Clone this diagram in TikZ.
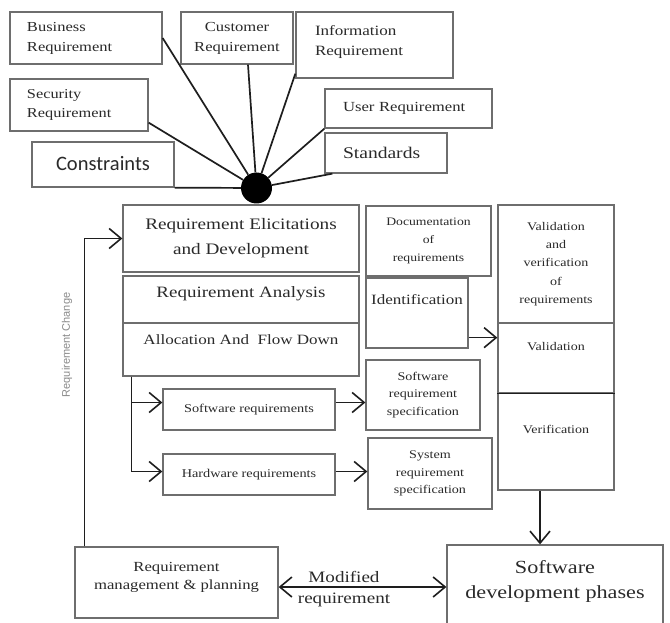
\documentclass[tikz,border=0pt]{standalone}
\usepackage{fontspec}
\setmainfont{Liberation Serif}[FakeStretch=1.2]
\newfontfamily\carlitofont{Carlito}
\newfontfamily\arialfont{Liberation Sans}
\usetikzlibrary{arrows.meta,calc}
\newcommand\fsz[2]{\fontsize{#1}{#2}\selectfont}
\definecolor{boxline}{HTML}{6E6E6E}
\definecolor{ink}{HTML}{2A2A2A}
\definecolor{wire}{HTML}{1E1E1E}
\definecolor{softink}{HTML}{8A8A8A}

\begin{document}
\begin{tikzpicture}[x=1pt,y=-1pt,
  box/.style={draw=boxline,line width=1.3pt,rectangle,inner sep=1pt,text=ink,align=center},
  spoke/.style={draw=wire,line width=1.7pt},
  barb/.tip={Straight Barb[length=12pt,width=20pt,line width=1.6pt]},
  arr/.style={draw=wire,line width=1.6pt,-barb},
  dblarr/.style={draw=wire,line width=1.6pt,barb-barb}]

\fill[white] (0,0) rectangle (670,623);
\useasboundingbox (0,0) rectangle (670,623);

% requirement sources around the hub
\node[box,minimum width=152,minimum height=52,text width=118,align=left,font=\fsz{13.75}{20}]
  (bus) at (86,38) {Business\\Requirement};
\node[box,minimum width=112,minimum height=52,font=\fsz{13.8}{20}]
  (cus) at (237,38) {Customer\\Requirement};
\node[box,minimum width=157,minimum height=66,text width=119,align=left,font=\fsz{14.2}{20},text depth=29.8]
  (inf) at (374.5,45) {Information\\Requirement};
\node[box,minimum width=138,minimum height=52,text width=104,align=left,font=\fsz{13.6}{19}]
  (sec) at (79,105) {Security\\Requirement};
\node[box,minimum width=142,minimum height=45,font=\carlitofont\fsz{20.5}{24},text depth=3]
  (con) at (103,164.5) {Constraints};
\node[box,minimum width=167,minimum height=39,text width=131,align=left,font=\fsz{13.9}{18}]
  (usr) at (408.5,108.5) {User Requirement};
\node[box,minimum width=122,minimum height=40,text width=86,align=left,font=\fsz{16.3}{20}]
  (std) at (386,153) {Standards};

\node[circle,fill=black,minimum size=31,inner sep=0] (hub) at (256.5,188) {};

\draw[spoke] (bus.east) -- (hub);
\draw[spoke] ($(cus.south)+(11,0)$) -- (hub);
\draw[spoke] ($(inf.south west)+(0,-5)$) -- (hub);
\draw[spoke] ($(sec.south east)+(0,-9)$) -- (hub);
\draw[spoke] (con.south east) -- (hub);
\draw[spoke] (usr.south west) -- (hub);
\draw[spoke] ($(std.south west)+(8,0)$) -- (hub);

% main process block
\node[box,minimum width=236,minimum height=67,font=\fsz{16}{25}]
  (elic) at (241,238.5) {Requirement Elicitations\\and Development};
\node[box,minimum width=236,minimum height=47,font=\fsz{15.8}{20},text depth=14]
  (ana) at (241,299.5) {Requirement Analysis};
\node[box,minimum width=236,minimum height=53,font=\fsz{14.2}{18},text depth=19]
  (alloc) at (241,349.5) {Allocation And\ \ Flow Down};

\node[box,minimum width=125,minimum height=70,font=\fsz{11.4}{18}]
  (doc) at (428.5,241) {Documentation\\of\\requirements};
\node[box,minimum width=102,minimum height=70,font=\fsz{14.2}{18},text depth=27.7]
  (ident) at (417,313) {Identification};

% validation column
\node[box,minimum width=116,minimum height=118,font=\fsz{11.7}{18.3}]
  (vv) at (556,264) {Validation\\and\\verification\\of\\requirements};
\node[box,minimum width=116,minimum height=70,font=\fsz{11.7}{18},text depth=24]
  (val) at (556,358) {Validation};
\node[box,minimum width=116,minimum height=97,font=\fsz{11.7}{18},text depth=25]
  (ver) at (556,441.5) {Verification};
\draw[draw=wire,line width=1.3pt] (val.south west) -- (val.south east);

% derived requirements
\node[box,minimum width=172,minimum height=41,font=\fsz{11.9}{16}]
  (swreq) at (249,409.5) {Software requirements};
\node[box,minimum width=172,minimum height=41,font=\fsz{11.9}{16}]
  (hwreq) at (249,474.5) {Hardware requirements};
\node[box,minimum width=114,minimum height=70,font=\fsz{11.75}{17.5}]
  (swspec) at (423,395) {Software\\requirement\\specification};
\node[box,minimum width=124,minimum height=71,font=\fsz{11.75}{17.5}]
  (sysspec) at (430,473.5) {System\\requirement\\specification};

% bottom row
\node[box,minimum width=203,minimum height=71,font=\fsz{13.9}{18},text depth=12.5]
  (mgmt) at (176.5,582.5) {Requirement\\management \& planning};
\node[box,minimum width=216,minimum height=95,font=\fsz{18.5}{25},text depth=26.6]
  (swdev) at (555,592.5) {Software\\development phases};

\node[inner sep=0,align=center,text=ink,font=\fsz{15.9}{21}]
  (modlbl) at (344,588.8) {Modified\\requirement};
\node[rotate=90,inner sep=0,text=softink,font=\arialfont\fsz{11}{13}]
  (chglbl) at (67,345) {Requirement Change};

% connectors
\draw[arr] ($(mgmt.north west)+(10,0)$) |- (elic.west);

\coordinate (split) at ($(alloc.south west)+(9,0)$);
\draw[arr] (split) |- ($(swreq.west)+(0,-7)$);
\draw[arr] (split) |- ($(hwreq.west)+(0,-3)$);

\coordinate (swo) at ($(swreq.east)+(0,-7)$);
\draw[arr] (swo) -- (swo -| swspec.west);
\coordinate (hwo) at ($(hwreq.east)+(0,-3)$);
\draw[arr] (hwo) -- (hwo -| sysspec.west);

\coordinate (ido) at ($(ident.south east)+(0,-11)$);
\draw[arr] (ido) -- (ido -| val.west);

\coordinate (vo) at ($(ver.south)+(-16,0)$);
\draw[arr] (vo) -- (vo |- swdev.north);

\coordinate (mo) at ($(mgmt.east)+(0,4.5)$);
\draw[dblarr] (mo) -- (mo -| swdev.west);

\end{tikzpicture}
\end{document}
